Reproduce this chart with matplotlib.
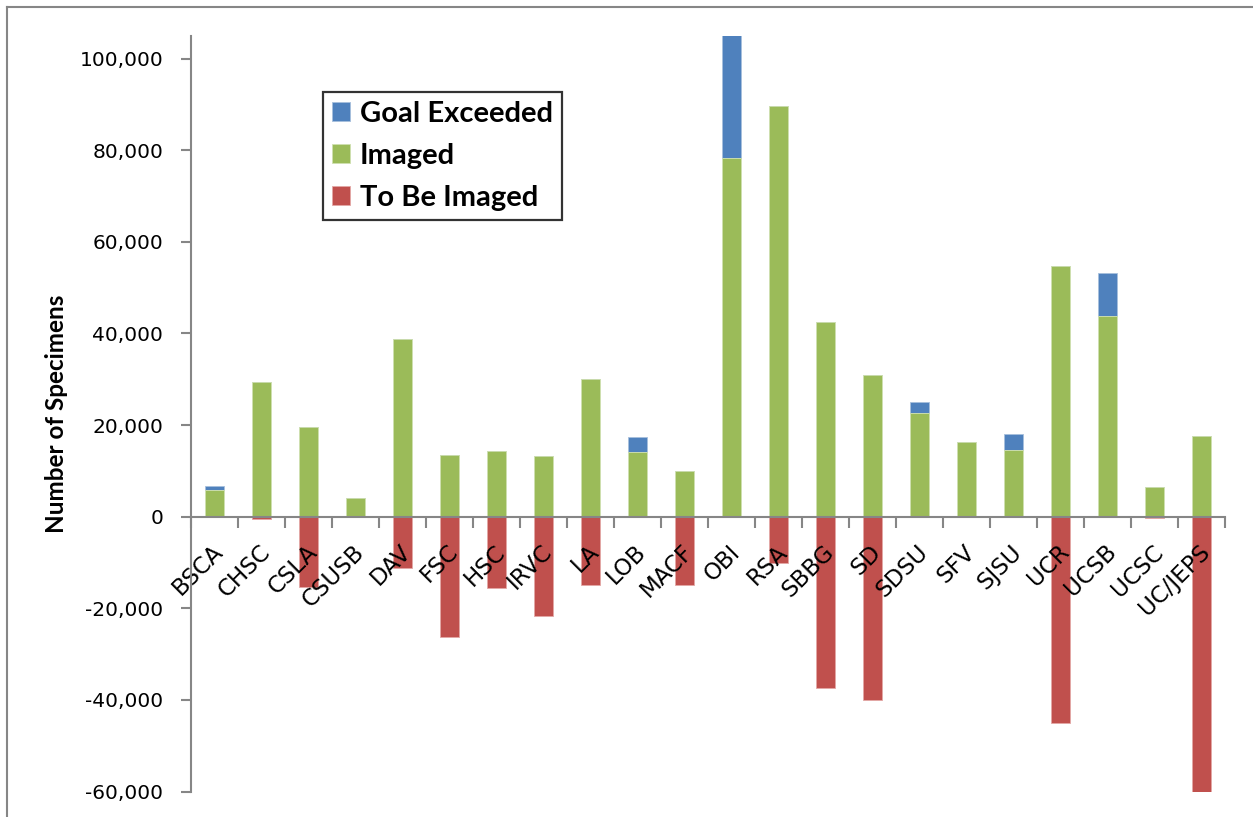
import matplotlib
matplotlib.use("Agg")
import matplotlib.pyplot as plt
import matplotlib.transforms as mtransforms
from matplotlib.lines import Line2D
from matplotlib.ticker import FuncFormatter, FixedLocator
import numpy as np

# Herbaria and their imaging progress
herbaria = ["BSCA", "CHSC", "CSLA", "CSUSB", "DAV", "FSC", "HSC", "IRVC", "LA",
            "LOB", "MACF", "OBI", "RSA", "SBBG", "SD", "SDSU", "SFV", "SJSU",
            "UCR", "UCSB", "UCSC", "UC/JEPS"]
imaged = [5900, 29400, 19500, 4100, 38800, 13500, 14400, 13300, 30000, 14200,
          9900, 78300, 89600, 42500, 30900, 22600, 16300, 14600, 54700, 43800,
          6500, 17700]
goal_exceeded = [800, 0, 0, 0, 0, 0, 0, 0, 0, 3200, 0, 27000, 0, 0, 0, 2500,
                 0, 3500, 0, 9400, 0, 0]
to_be_imaged = [0, -600, -15400, 0, -11300, -26300, -15600, -21700, -15000, 0,
                -15000, 0, -10100, -37500, -40000, 0, 0, 0, -45100, 0, -400,
                -61000]

BLUE = "#4F81BD"
GREEN = "#9BBB59"
RED = "#C0504D"
GREY = "#868686"

W, H = 1253, 817
fig = plt.figure(figsize=(W / 100, H / 100), dpi=100)
ax = fig.add_axes([191 / W, 1 - 791.5 / H, (1225 - 191) / W, (791.5 - 35.7) / H])

x = np.arange(len(herbaria))
bw = 0.39
ax.bar(x, goal_exceeded, bw, bottom=imaged, color=BLUE, edgecolor="#a7bfdc",
       linewidth=0.6, label="Goal Exceeded")
ax.bar(x, imaged, bw, color=GREEN, edgecolor="#cfe0b0", linewidth=0.6, label="Imaged")
ax.bar(x, to_be_imaged, bw, color=RED, edgecolor="#e3a8a6", linewidth=0.6,
       label="To Be Imaged")

ax.set_xlim(-0.5, len(herbaria) - 0.5)
ax.set_ylim(-60000, 105000)

# axes look
for s in ["top", "right"]:
    ax.spines[s].set_visible(False)
ax.spines["bottom"].set_position(("data", 0))
for s in ["left", "bottom"]:
    ax.spines[s].set_color(GREY)
    ax.spines[s].set_linewidth(1.5)

ax.set_yticks(np.arange(-60000, 100001, 20000))
ax.yaxis.set_major_formatter(FuncFormatter(lambda v, p: f"{int(v):,}"))
ax.tick_params(axis="y", direction="out", length=7, width=1.5, color=GREY,
               labelsize=14.5, pad=13)

ax.set_xticks(x)
ax.set_xticklabels(herbaria, rotation=45, ha="right", va="top",
                   rotation_mode="anchor", fontsize=16.5)
ax.tick_params(axis="x", which="major", length=0, pad=17)
ax.xaxis.set_minor_locator(FixedLocator(np.arange(-0.5, len(herbaria), 1.0)))
ax.tick_params(axis="x", which="minor", direction="out", length=8, width=1.5,
               color=GREY)
shift = mtransforms.ScaledTranslation(-3 / 100, 0, fig.dpi_scale_trans)
for lab in ax.get_xticklabels():
    lab.set_transform(lab.get_transform() + shift)

ax.set_ylabel("Number of Specimens", fontsize=17.5, fontweight="bold",
              family=["Lato", "DejaVu Sans"])
ax.yaxis.set_label_coords((68 - 191) / (1225 - 191), 0.5)

# legend in the upper left area
handles, labels = ax.get_legend_handles_labels()
leg = ax.legend(handles, labels, loc="upper left",
                bbox_to_anchor=(323 / W, 1 - 92 / H), bbox_transform=fig.transFigure,
                borderaxespad=0, fancybox=False, frameon=True,
                prop={"family": ["Lato", "DejaVu Sans"], "weight": "bold", "size": 21},
                handlelength=0.62, handleheight=0.62, handletextpad=0.35,
                labelspacing=0.55, borderpad=0.3)
leg.get_frame().set_edgecolor("black")
leg.get_frame().set_linewidth(1.6)

# chart-area border (top and left edges visible)
fig.add_artist(Line2D([7 / W, 1], [1 - 6.5 / H] * 2, transform=fig.transFigure,
                      color=GREY, lw=1.5))
fig.add_artist(Line2D([7 / W] * 2, [0, 1 - 6.5 / H], transform=fig.transFigure,
                      color=GREY, lw=1.5))

fig.savefig("out.png", dpi=100)
